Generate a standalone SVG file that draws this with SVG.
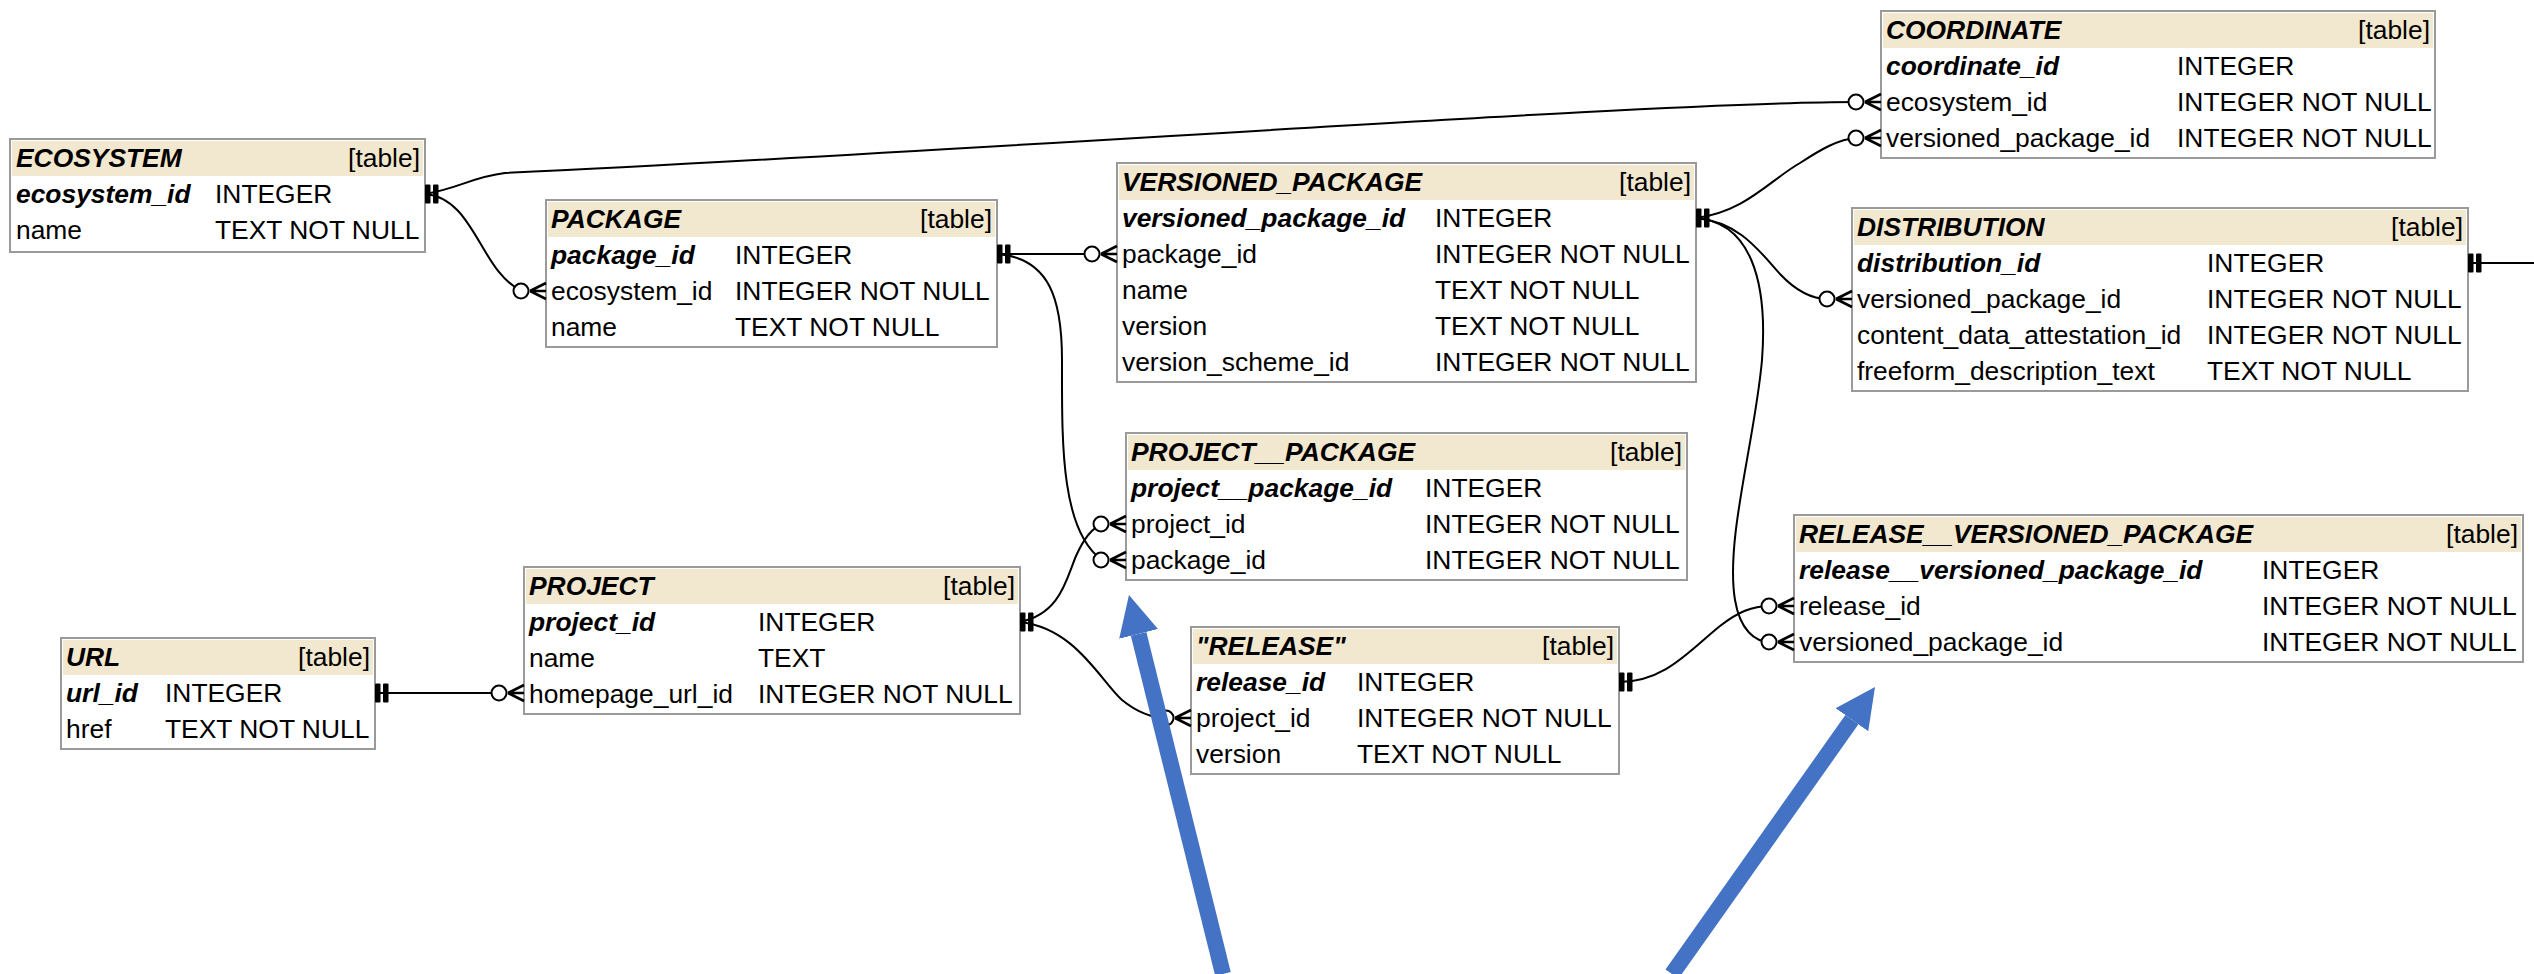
<svg xmlns="http://www.w3.org/2000/svg" xmlns:xlink="http://www.w3.org/1999/xlink" width="2534" height="974" viewBox="0 0 2534 974">
  <style>
    text { font-family: "Liberation Sans", Arial, Helvetica, sans-serif; font-size: 26.4px; fill: #000; }
    .b { font-weight: bold; font-style: italic; }
    .r { text-anchor: end; }
    .frame { fill: #fff; stroke: #9a9a9a; stroke-width: 2; }
    .hdr { fill: #f2e8cf; }
    .edge { fill: none; stroke: #000; stroke-width: 2; }
    .note { stroke: #4472c4; stroke-width: 16; fill: none; }
  </style>
  <defs>
    <!-- exactly-one end: two bars just outside the referenced table -->
    <g id="one">
      <rect x="0" y="-9.5" width="5.5" height="19" rx="1" fill="#000"/>
      <rect x="8" y="-9.5" width="5.5" height="19" rx="1" fill="#000"/>
    </g>
    <!-- zero-or-many end: open circle plus crow's foot touching the table -->
    <g id="many">
      <path d="M-16,0 L0,-8 M-16,0 L0,0 M-16,0 L0,8" fill="none" stroke="#000" stroke-width="2.6"/>
      <circle cx="-25" cy="0" r="7.5" fill="#fff" stroke="#000" stroke-width="2"/>
    </g>
    <marker id="bigHead" markerUnits="userSpaceOnUse" markerWidth="40" markerHeight="40" viewBox="0 0 40 40" refX="0" refY="20" orient="auto">
      <path d="M0,0 L40,20 L0,40 z" fill="#4472c4"/>
    </marker>
  </defs>

  <!-- tables -->
  <g id="ecosystem">
    <rect class="frame" x="10" y="139" width="415" height="113"/>
    <rect class="hdr" x="12" y="141" width="411" height="35"/>
    <text class="b" x="16" y="167">ECOSYSTEM</text>
    <text class="r" x="420" y="167">[table]</text>
    <text class="b" x="16" y="203">ecosystem_id</text>
    <text x="215" y="203">INTEGER</text>
    <text x="16" y="239">name</text>
    <text x="215" y="239">TEXT NOT NULL</text>
  </g>

  <g id="package">
    <rect class="frame" x="546" y="200" width="451" height="147"/>
    <rect class="hdr" x="548" y="202" width="447" height="35"/>
    <text class="b" x="551" y="228">PACKAGE</text>
    <text class="r" x="992" y="228">[table]</text>
    <text class="b" x="551" y="264">package_id</text>
    <text x="735" y="264">INTEGER</text>
    <text x="551" y="300">ecosystem_id</text>
    <text x="735" y="300">INTEGER NOT NULL</text>
    <text x="551" y="336">name</text>
    <text x="735" y="336">TEXT NOT NULL</text>
  </g>

  <g id="versioned_package">
    <rect class="frame" x="1117" y="163" width="579" height="219"/>
    <rect class="hdr" x="1119" y="165" width="575" height="35"/>
    <text class="b" x="1122" y="191">VERSIONED_PACKAGE</text>
    <text class="r" x="1691" y="191">[table]</text>
    <text class="b" x="1122" y="227">versioned_package_id</text>
    <text x="1435" y="227">INTEGER</text>
    <text x="1122" y="263">package_id</text>
    <text x="1435" y="263">INTEGER NOT NULL</text>
    <text x="1122" y="299">name</text>
    <text x="1435" y="299">TEXT NOT NULL</text>
    <text x="1122" y="335">version</text>
    <text x="1435" y="335">TEXT NOT NULL</text>
    <text x="1122" y="371">version_scheme_id</text>
    <text x="1435" y="371">INTEGER NOT NULL</text>
  </g>

  <g id="coordinate">
    <rect class="frame" x="1881" y="11" width="554" height="147"/>
    <rect class="hdr" x="1883" y="13" width="550" height="35"/>
    <text class="b" x="1886" y="39">COORDINATE</text>
    <text class="r" x="2430" y="39">[table]</text>
    <text class="b" x="1886" y="75">coordinate_id</text>
    <text x="2177" y="75">INTEGER</text>
    <text x="1886" y="111">ecosystem_id</text>
    <text x="2177" y="111">INTEGER NOT NULL</text>
    <text x="1886" y="147">versioned_package_id</text>
    <text x="2177" y="147">INTEGER NOT NULL</text>
  </g>

  <g id="distribution">
    <rect class="frame" x="1852" y="208" width="616" height="183"/>
    <rect class="hdr" x="1854" y="210" width="612" height="35"/>
    <text class="b" x="1857" y="236">DISTRIBUTION</text>
    <text class="r" x="2463" y="236">[table]</text>
    <text class="b" x="1857" y="272">distribution_id</text>
    <text x="2207" y="272">INTEGER</text>
    <text x="1857" y="308">versioned_package_id</text>
    <text x="2207" y="308">INTEGER NOT NULL</text>
    <text x="1857" y="344">content_data_attestation_id</text>
    <text x="2207" y="344">INTEGER NOT NULL</text>
    <text x="1857" y="380">freeform_description_text</text>
    <text x="2207" y="380">TEXT NOT NULL</text>
  </g>

  <g id="project__package">
    <rect class="frame" x="1126" y="433" width="561" height="147"/>
    <rect class="hdr" x="1128" y="435" width="557" height="35"/>
    <text class="b" x="1131" y="461">PROJECT__PACKAGE</text>
    <text class="r" x="1682" y="461">[table]</text>
    <text class="b" x="1131" y="497">project__package_id</text>
    <text x="1425" y="497">INTEGER</text>
    <text x="1131" y="533">project_id</text>
    <text x="1425" y="533">INTEGER NOT NULL</text>
    <text x="1131" y="569">package_id</text>
    <text x="1425" y="569">INTEGER NOT NULL</text>
  </g>

  <g id="project">
    <rect class="frame" x="524" y="567" width="496" height="147"/>
    <rect class="hdr" x="526" y="569" width="492" height="35"/>
    <text class="b" x="529" y="595">PROJECT</text>
    <text class="r" x="1015" y="595">[table]</text>
    <text class="b" x="529" y="631">project_id</text>
    <text x="758" y="631">INTEGER</text>
    <text x="529" y="667">name</text>
    <text x="758" y="667">TEXT</text>
    <text x="529" y="703">homepage_url_id</text>
    <text x="758" y="703">INTEGER NOT NULL</text>
  </g>

  <g id="url">
    <rect class="frame" x="61" y="638" width="314" height="111"/>
    <rect class="hdr" x="63" y="640" width="310" height="35"/>
    <text class="b" x="66" y="666">URL</text>
    <text class="r" x="370" y="666">[table]</text>
    <text class="b" x="66" y="702">url_id</text>
    <text x="165" y="702">INTEGER</text>
    <text x="66" y="738">href</text>
    <text x="165" y="738">TEXT NOT NULL</text>
  </g>

  <g id="release">
    <rect class="frame" x="1191" y="627" width="428" height="147"/>
    <rect class="hdr" x="1193" y="629" width="424" height="35"/>
    <text class="b" x="1196" y="655">"RELEASE"</text>
    <text class="r" x="1614" y="655">[table]</text>
    <text class="b" x="1196" y="691">release_id</text>
    <text x="1357" y="691">INTEGER</text>
    <text x="1196" y="727">project_id</text>
    <text x="1357" y="727">INTEGER NOT NULL</text>
    <text x="1196" y="763">version</text>
    <text x="1357" y="763">TEXT NOT NULL</text>
  </g>

  <g id="release__versioned_package">
    <rect class="frame" x="1794" y="515" width="729" height="147"/>
    <rect class="hdr" x="1796" y="517" width="725" height="35"/>
    <text class="b" x="1799" y="543">RELEASE__VERSIONED_PACKAGE</text>
    <text class="r" x="2518" y="543">[table]</text>
    <text class="b" x="1799" y="579">release__versioned_package_id</text>
    <text x="2262" y="579">INTEGER</text>
    <text x="1799" y="615">release_id</text>
    <text x="2262" y="615">INTEGER NOT NULL</text>
    <text x="1799" y="651">versioned_package_id</text>
    <text x="2262" y="651">INTEGER NOT NULL</text>
  </g>

  <!-- foreign-key relationships -->
  <g id="connectors">
    <!-- ECOSYSTEM -> COORDINATE.ecosystem_id -->
    <path class="edge" d="M425,194 C460,188 472,177 505,173 C1000,150 1650,102 1857,102"/>
    <!-- ECOSYSTEM -> PACKAGE.ecosystem_id -->
    <path class="edge" d="M425,194 C475,198 480,272 522,291"/>
    <!-- PACKAGE -> VERSIONED_PACKAGE.package_id -->
    <path class="edge" d="M997,254 L1093,254"/>
    <!-- PACKAGE -> PROJECT__PACKAGE.package_id -->
    <path class="edge" d="M997,254 C1050,258 1062,300 1062,360 C1062,440 1060,530 1102,560"/>
    <!-- PROJECT -> PROJECT__PACKAGE.project_id -->
    <path class="edge" d="M1020,622 C1060,614 1066,580 1076,556 C1084,538 1092,528 1102,524"/>
    <!-- PROJECT -> RELEASE.project_id -->
    <path class="edge" d="M1020,622 C1075,628 1100,680 1122,700 C1138,713 1152,718 1167,718"/>
    <!-- URL -> PROJECT.homepage_url_id -->
    <path class="edge" d="M375,693 L500,693"/>
    <!-- VERSIONED_PACKAGE -> COORDINATE.versioned_package_id -->
    <path class="edge" d="M1696,218 C1745,212 1770,180 1800,163 C1820,150 1838,139 1857,138"/>
    <!-- VERSIONED_PACKAGE -> DISTRIBUTION.versioned_package_id -->
    <path class="edge" d="M1696,218 C1740,222 1760,252 1780,274 C1795,290 1810,299 1828,299"/>
    <!-- VERSIONED_PACKAGE -> RELEASE__VERSIONED_PACKAGE.versioned_package_id -->
    <path class="edge" d="M1696,218 C1750,222 1768,280 1762,360 C1755,440 1725,540 1735,600 C1740,630 1755,642 1770,642"/>
    <!-- RELEASE -> RELEASE__VERSIONED_PACKAGE.release_id -->
    <path class="edge" d="M1619,682 C1665,682 1690,650 1720,626 C1738,612 1752,606 1770,606"/>
    <!-- DISTRIBUTION continues off the right edge -->
    <path class="edge" d="M2468,263 L2534,263"/>

    <!-- end symbols -->
    <use xlink:href="#one" x="425" y="194"/>
    <use xlink:href="#one" x="997" y="254"/>
    <use xlink:href="#one" x="1020" y="622"/>
    <use xlink:href="#one" x="375" y="693"/>
    <use xlink:href="#one" x="1696" y="218"/>
    <use xlink:href="#one" x="1619" y="682"/>
    <use xlink:href="#one" x="2468" y="263"/>

    <use xlink:href="#many" x="1881" y="102"/>
    <use xlink:href="#many" x="546" y="291"/>
    <use xlink:href="#many" x="1117" y="254"/>
    <use xlink:href="#many" x="1126" y="560"/>
    <use xlink:href="#many" x="1126" y="524"/>
    <use xlink:href="#many" x="1191" y="718"/>
    <use xlink:href="#many" x="524" y="693"/>
    <use xlink:href="#many" x="1881" y="138"/>
    <use xlink:href="#many" x="1852" y="299"/>
    <use xlink:href="#many" x="1794" y="642"/>
    <use xlink:href="#many" x="1794" y="606"/>
  </g>

  <!-- blue pointer arrows -->
  <g id="pointers">
    <path class="note" d="M1223,974 L1138.6,633.9" marker-end="url(#bigHead)"/>
    <path class="note" d="M1672,974 L1851.9,719.7" marker-end="url(#bigHead)"/>
  </g>
</svg>
